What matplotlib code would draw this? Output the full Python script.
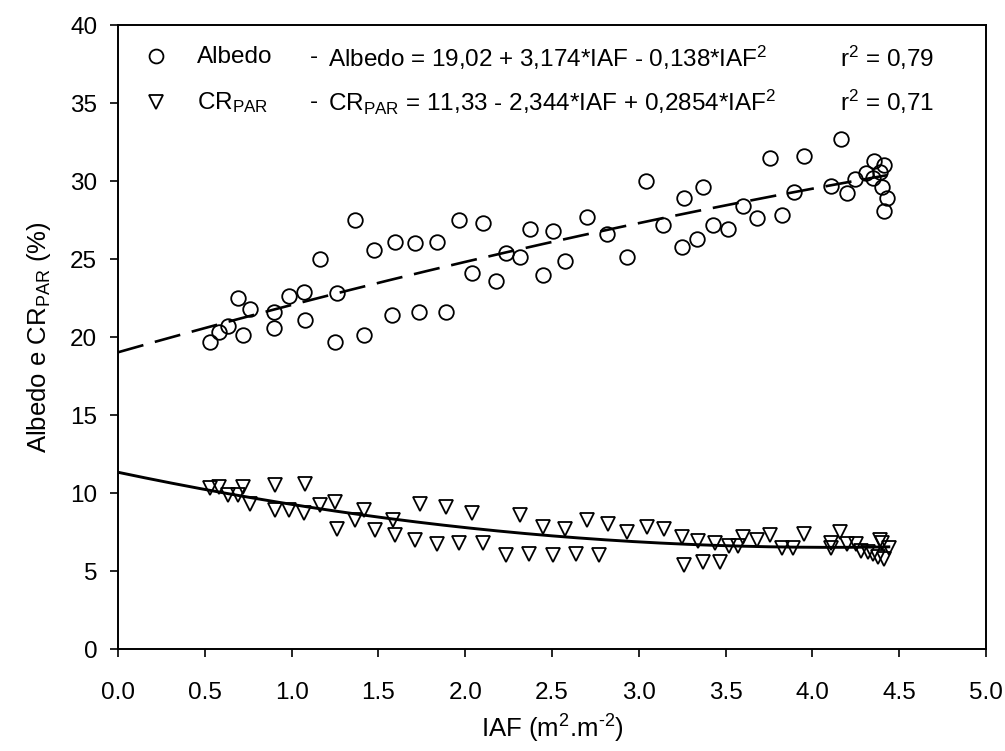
import numpy as np
import matplotlib
matplotlib.use('Agg')
import matplotlib.pyplot as plt

plt.rcParams['font.family'] = ['Liberation Sans', 'DejaVu Sans']
plt.rcParams['mathtext.fontset'] = 'custom'
plt.rcParams['mathtext.rm'] = 'Liberation Sans'
plt.rcParams['mathtext.it'] = 'Liberation Sans:italic'
plt.rcParams['mathtext.default'] = 'regular'

# Albedo (%) vs IAF
alb_iaf = [0.53, 0.58, 0.635, 0.693, 0.718, 0.76, 0.899, 0.899, 0.987, 1.071,
           1.077, 1.163, 1.252, 1.263, 1.365, 1.417, 1.475, 1.58, 1.596, 1.711,
           1.736, 1.836, 1.889, 1.966, 2.037, 2.10, 2.177, 2.235, 2.316, 2.373,
           2.45, 2.504, 2.575, 2.70, 2.815, 2.934, 3.041, 3.141, 3.247, 3.26,
           3.337, 3.368, 3.43, 3.516, 3.598, 3.679, 3.756, 3.823, 3.894, 3.952,
           4.11, 4.163, 4.20, 4.245, 4.31, 4.35, 4.355, 4.39, 4.41, 4.40,
           4.43, 4.41]
alb_val = [19.7, 20.3, 20.7, 22.5, 20.1, 21.8, 21.6, 20.6, 22.6, 22.9,
           21.1, 25.0, 19.7, 22.8, 27.5, 20.1, 25.6, 21.4, 26.1, 26.0,
           21.6, 26.1, 21.6, 27.5, 24.1, 27.3, 23.6, 25.4, 25.1, 26.9,
           24.0, 26.8, 24.9, 27.7, 26.6, 25.1, 30.0, 27.2, 25.8, 28.9,
           26.3, 29.6, 27.2, 26.9, 28.4, 27.6, 31.5, 27.8, 29.3, 31.6,
           29.7, 32.7, 29.2, 30.1, 30.5, 30.2, 31.3, 30.6, 31.0, 29.6,
           28.9, 28.1]

# CR_PAR (%) vs IAF
cr_iaf = [0.53, 0.58, 0.635, 0.69, 0.722, 0.76, 0.904, 0.904, 0.987, 1.071,
          1.077, 1.163, 1.25, 1.26, 1.365, 1.417, 1.48, 1.586, 1.596, 1.74,
          1.711, 1.889, 1.84, 1.966, 2.037, 2.10, 2.235, 2.316, 2.37, 2.45,
          2.504, 2.575, 2.638, 2.70, 2.77, 2.82, 2.93, 3.045, 3.145, 3.247,
          3.26, 3.343, 3.37, 3.44, 3.47, 3.52, 3.573, 3.60, 3.68, 3.756,
          3.823, 3.89, 3.95, 4.11, 4.11, 4.16, 4.20, 4.25, 4.28, 4.32,
          4.35, 4.39, 4.38, 4.41, 4.44, 4.40]
cr_val = [10.3, 10.4, 9.9, 9.9, 10.4, 9.3, 10.5, 8.9, 8.9, 8.7,
          10.6, 9.2, 9.4, 7.7, 8.3, 8.9, 7.6, 8.3, 7.3, 9.3,
          7.0, 9.1, 6.7, 6.8, 8.7, 6.8, 6.0, 8.6, 6.1, 7.8,
          6.0, 7.7, 6.1, 8.3, 6.0, 8.0, 7.5, 7.8, 7.7, 7.2,
          5.4, 6.9, 5.6, 6.8, 5.6, 6.6, 6.6, 7.2, 7.0, 7.3,
          6.5, 6.5, 7.4, 6.5, 6.8, 7.5, 6.7, 6.7, 6.3, 6.2,
          6.1, 7.0, 5.9, 5.8, 6.5, 6.8]

# fitted equations printed on the chart
alb_coef = [19.02, 3.174, -0.138]
cr_coef = [11.33, -2.344, 0.2854]

xticks = [0.0, 0.5, 1.0, 1.5, 2.0, 2.5, 3.0, 3.5, 4.0, 4.5, 5.0]
yticks = [0, 5, 10, 15, 20, 25, 30, 35, 40]

fig = plt.figure(figsize=(10.05, 7.51), dpi=100)
ax = fig.add_axes([0.1174, 0.1358, 0.8637, 0.8309])

xa = np.linspace(0, max(alb_iaf), 200)
ax.plot(xa, alb_coef[0] + alb_coef[1]*xa + alb_coef[2]*xa**2, color='k',
        lw=1.9, dashes=(10, 4.5))
xc = np.linspace(0, max(cr_iaf), 200)
ax.plot(xc, cr_coef[0] + cr_coef[1]*xc + cr_coef[2]*xc**2, color='k', lw=2.1)

ax.plot(alb_iaf, alb_val, 'o', ms=10.5, mfc='none', mec='k', mew=1.3)
ax.plot(cr_iaf, cr_val, 'v', ms=9.5, mfc='none', mec='k', mew=1.3)

ax.set_xlim(0, 5)
ax.set_ylim(0, 40)
ax.set_xticks(xticks)
ax.set_xticklabels(['%.1f' % v for v in xticks])
ax.set_yticks(yticks)
ax.tick_params(direction='out', length=6, width=1.2, labelsize=17.5)
ax.tick_params(axis='x', pad=18)
ax.tick_params(axis='y', pad=9)
for s in ax.spines.values():
    s.set_linewidth(1.4)

ax.set_xlabel('IAF (m$^2$.m$^{\u2010 2}$)', fontsize=18.5, labelpad=6)
ax.set_ylabel('Albedo e CR$_{PAR}$ (%)', fontsize=18.5, labelpad=12)

# legend with equations
fs = 17.5
ax.plot([0.0438], [0.950], 'o', ms=10, mfc='none', mec='k', mew=1.3,
        transform=ax.transAxes, clip_on=False)
ax.plot([0.0438], [0.876], 'v', ms=9.5, mfc='none', mec='k', mew=1.3,
        transform=ax.transAxes, clip_on=False)
rows = [(0.948, 'Albedo', 'Albedo = 19,02 + 3,174*IAF - 0,138*IAF$^2$', 'r$^2$ = 0,79'),
        (0.876, 'CR$_{PAR}$', 'CR$_{PAR}$ = 11,33 - 2,344*IAF + 0,2854*IAF$^2$', 'r$^2$ = 0,71')]
for y, name, eq, r2 in rows:
    ax.text(0.091, y, name, fontsize=fs, va='center', transform=ax.transAxes)
    ax.text(0.221, y, '-', fontsize=fs, va='center', transform=ax.transAxes)
    ax.text(0.242, y, eq, fontsize=fs, va='center', transform=ax.transAxes)
    ax.text(0.832, y, r2, fontsize=fs, va='center', transform=ax.transAxes)

fig.savefig('out.png', dpi=100)
